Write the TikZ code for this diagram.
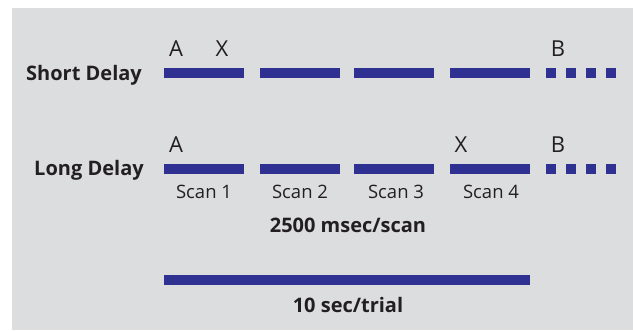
\documentclass[tikz,border=0pt]{standalone}
\usepackage{fontspec}
\setmainfont{Open Sans}
\definecolor{barblue}{RGB}{46,49,146}
\definecolor{panelgray}{RGB}{220,221,223}
\definecolor{inkgray}{RGB}{35,31,32}
\begin{document}
\begin{tikzpicture}[x=1pt,y=-1pt,
  bar/.style={fill=barblue, draw=none, inner sep=0pt, minimum height=10pt, anchor=west},
  scanbar/.style={bar, minimum width=80pt},
  tick/.style={bar, minimum width=10pt},
  rowlabel/.style={text=inkgray, inner sep=0pt, anchor=base, font=\bfseries\fontsize{20}{24}\selectfont},
  eventlabel/.style={text=inkgray, inner sep=0pt, anchor=base, font=\fontsize{22}{26}\selectfont},
  scanlabel/.style={text=inkgray, inner sep=0pt, anchor=base, font=\fontsize{18.5}{22}\selectfont},
  unitlabel/.style={text=inkgray, inner sep=0pt, anchor=base, font=\bfseries\fontsize{20}{24}\selectfont}]
  \useasboundingbox (0,0) rectangle (633,330);
  \fill[white] (0,0) rectangle (633,330);
  \fill[panelgray] (12,8) rectangle (633,330);

  % short delay row
  \node[rowlabel] (shortlbl) at (84,80) {Short Delay};
  \node[scanbar] (s1) at (164,73) {};
  \node[scanbar] (s2) at (260,73) {};
  \node[scanbar] (s3) at (354,73) {};
  \node[scanbar] (s4) at (450,73) {};
  \node[tick] (st1) at (546,73) {};
  \node[tick] (st2) at (566,73) {};
  \node[tick] (st3) at (586,73) {};
  \node[tick] (st4) at (606,73) {};
  \node[eventlabel] (sa) at (176,56) {A};
  \node[eventlabel] (sx) at (222,56) {X};
  \node[eventlabel] (sb) at (558,56) {B};

  % long delay row
  \node[rowlabel] (longlbl) at (89,175) {Long Delay};
  \node[scanbar] (l1) at (164,169) {};
  \node[scanbar] (l2) at (260,169) {};
  \node[scanbar] (l3) at (354,169) {};
  \node[scanbar] (l4) at (450,169) {};
  \node[tick] (lt1) at (546,169) {};
  \node[tick] (lt2) at (566,169) {};
  \node[tick] (lt3) at (586,169) {};
  \node[tick] (lt4) at (606,169) {};
  \node[eventlabel] (la) at (176,152) {A};
  \node[eventlabel] (lx) at (461,152) {X};
  \node[eventlabel] (lb) at (558,152) {B};

  % scan labels
  \node[scanlabel] (c1) at (204,198) {Scan 1};
  \node[scanlabel] (c2) at (300,198) {Scan 2};
  \node[scanlabel] (c3) at (396,198) {Scan 3};
  \node[scanlabel] (c4) at (491,198) {Scan 4};
  \node[unitlabel] (rate) at (348,232) {2500 msec/scan};

  % trial bar
  \node[bar, minimum width=366pt] (trial) at (164,280) {};
  \node[unitlabel] (trialtxt) at (348,312) {10 sec/trial};
\end{tikzpicture}
\end{document}
